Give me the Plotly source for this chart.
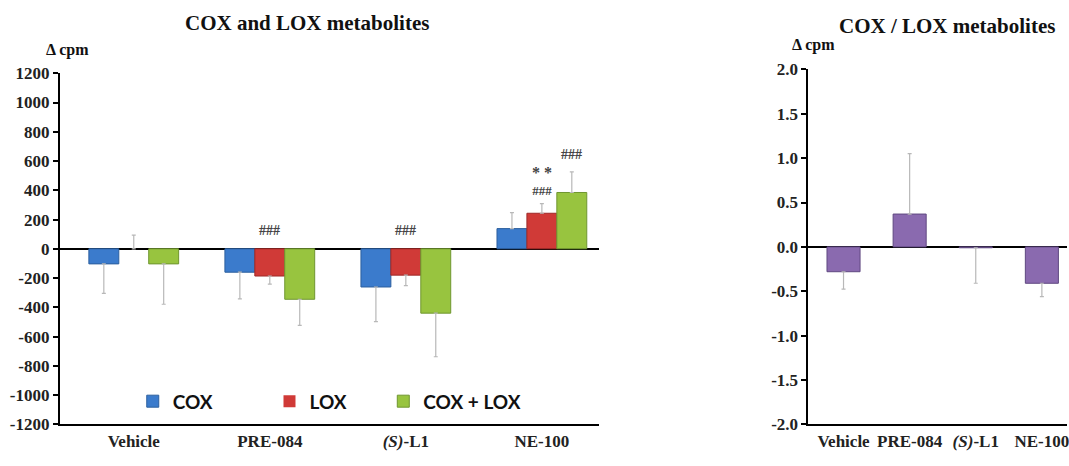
import plotly.graph_objects as go

# Treatment groups
groups = ["Vehicle", "PRE-084", "<i>(S)</i>-L1", "NE-100"]

# Left panel: change in counts per minute (mean) and one-sided SEM
cox = [-103, -160, -261, 138]
cox_err = [201, 182, 237, 109]
lox = [0, -186, -180, 243]
lox_err = [94, 55, 72, 66]
coxlox = [-103, -345, -440, 385]
coxlox_err = [276, 179, 298, 141]

# Right panel: COX / LOX ratio
ratio = [-0.28, 0.37, -0.01, -0.41]
ratio_err = [0.195, 0.68, 0.40, 0.15]

left_ticks = [1200, 1000, 800, 600, 400, 200, 0, -200, -400, -600, -800, -1000, -1200]
left_ticktext = [str(v) for v in left_ticks]
right_ticks = [2.0, 1.5, 1.0, 0.5, 0.0, -0.5, -1.0, -1.5, -2.0]
right_ticktext = ["%.1f" % v for v in right_ticks]

SERIF = "Liberation Serif"
ERR_COLOR = "#b8b8b8"


def one_sided(values, errs):
    """Error bars pointing away from zero."""
    plus = [e if v >= 0 else 0 for v, e in zip(values, errs)]
    minus = [e if v < 0 else 0 for v, e in zip(values, errs)]
    return dict(type="data", symmetric=False, array=plus, arrayminus=minus,
                color=ERR_COLOR, thickness=1.2, width=2)


fig = go.Figure()

# each series gets its own legend box so the three keys can sit where wanted
series = [
    ("COX", cox, cox_err, "#3b7bcc", "#2c5f9e", "legend"),
    ("LOX", lox, lox_err, "#d03a37", "#9e2a28", "legend2"),
    ("COX + LOX", coxlox, coxlox_err, "#98c43f", "#6f9630", "legend3"),
]
for name, vals, errs, col, edge, leg in series:
    fig.add_trace(go.Bar(
        x=groups, y=vals, name=name, legend=leg,
        marker=dict(color=col, line=dict(color=edge, width=[0 if v == 0 else 1 for v in vals])),
        error_y=one_sided(vals, errs),
        xaxis="x", yaxis="y",
    ))

fig.add_trace(go.Bar(
    x=groups, y=ratio, name="COX / LOX", showlegend=False, width=0.5,
    marker=dict(color="#8a6aaf", line=dict(color="#5f4880", width=1)),
    error_y=one_sided(ratio, ratio_err),
    xaxis="x2", yaxis="y2",
))

axis_common = dict(showgrid=False, showline=True, linecolor="black", linewidth=2,
                   tickfont=dict(family=SERIF, size=17, color="#222", weight="bold"))

legend_common = dict(orientation="h", yanchor="middle", xanchor="left",
                     y=(466 - 409) / 466, bgcolor="rgba(0,0,0,0)",
                     font=dict(family="Lato", size=19, color="#111", weight="bold"),
                     itemwidth=30)

fig.update_layout(
    width=1069, height=466,
    margin=dict(l=0, r=0, t=0, b=0),
    paper_bgcolor="white", plot_bgcolor="white",
    barmode="group", bargap=0.34, bargroupgap=0,
    xaxis=dict(domain=[60 / 1069, 600 / 1069], anchor="y", type="category",
               range=[-0.543, 3.419], ticks="", **axis_common),
    yaxis=dict(domain=[33 / 466, 399 / 466], anchor="x", range=[-1200, 1200],
               tickvals=left_ticks, ticktext=left_ticktext, ticks="outside",
               ticklen=5, tickwidth=2, tickcolor="black",
               zeroline=True, zerolinecolor="black", zerolinewidth=2, **axis_common),
    xaxis2=dict(domain=[810 / 1069, 1.0], anchor="y2", type="category",
                range=[-0.53, 3.38], ticks="", **axis_common),
    yaxis2=dict(domain=[33 / 466, 403 / 466], anchor="x2", range=[-2, 2],
                tickvals=right_ticks, ticktext=right_ticktext, ticks="outside",
                ticklen=5, tickwidth=2, tickcolor="black",
                zeroline=True, zerolinecolor="black", zerolinewidth=2, **axis_common),
    legend=dict(x=133 / 1069, **legend_common),
    legend2=dict(x=270 / 1069, **legend_common),
    legend3=dict(x=384 / 1069, **legend_common),
    showlegend=True,
)

title_font = dict(family=SERIF, size=21, color="#111", weight="bold")
label_font = dict(family=SERIF, size=16, color="#111", weight="bold")

annotations = [
    dict(text="COX and LOX metabolites", x=308 / 1069, y=1 - 15 / 466, font=title_font),
    dict(text="COX / LOX metabolites", x=949 / 1069, y=1 - 18 / 466, font=title_font),
    dict(text="Δ cpm", x=68 / 1069, y=1 - 43 / 466, font=label_font),
    dict(text="Δ cpm", x=815 / 1069, y=1 - 38 / 466, font=label_font),
]
for a in annotations:
    a.update(xref="paper", yref="paper", showarrow=False, xanchor="center", yanchor="middle")

# Significance marks above the bars (offset in pixels from the group centre)
sig_marks = [
    ("###", groups[1], 0, 125, 14),
    ("###", groups[2], 0, 125, 14),
    ("<span style='font-size:16px'>* *</span><br>###", groups[3], 0, 462, 13),
    ("###", groups[3], 30, 646, 14),
]
for txt, grp, dx, yv, fs in sig_marks:
    annotations.append(dict(text=txt, x=grp, y=yv, xref="x", yref="y", xshift=dx,
                            showarrow=False, xanchor="center", yanchor="middle",
                            font=dict(family=SERIF, size=fs, color="#444", weight="bold")))

fig.update_layout(annotations=annotations)

fig.write_html("out.html")
